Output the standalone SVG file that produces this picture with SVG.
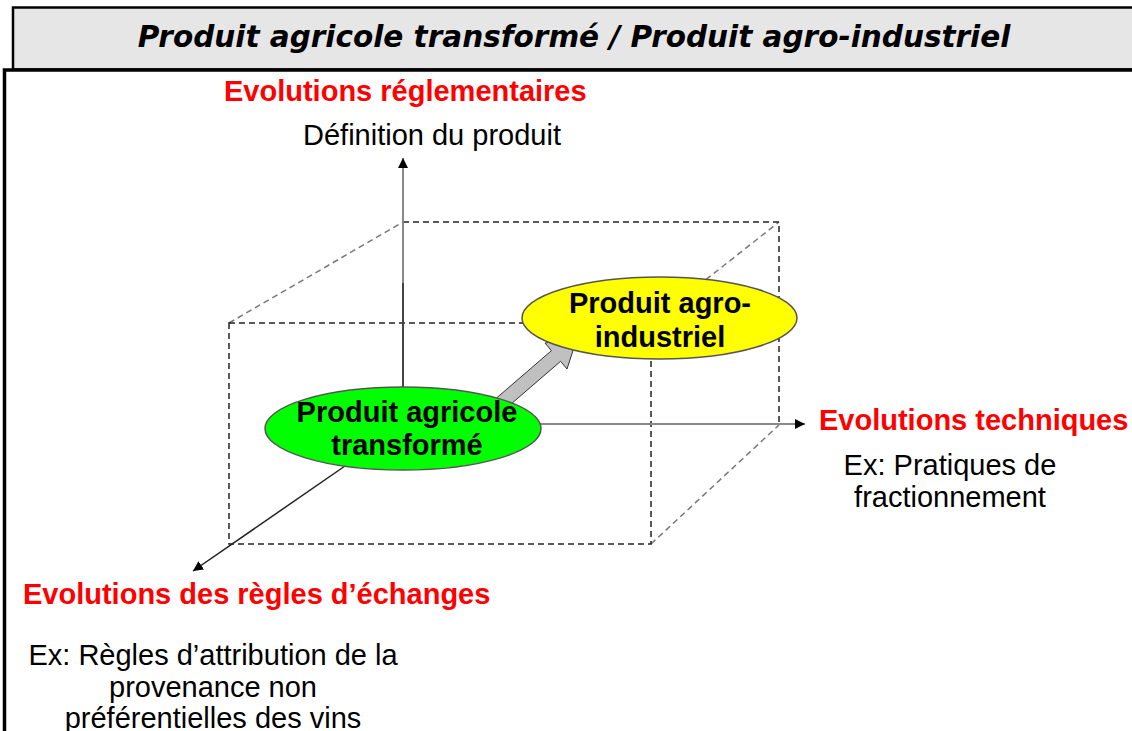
<svg xmlns="http://www.w3.org/2000/svg" width="1132" height="731" viewBox="0 0 1132 731">
<style>
.red{font-family:"Liberation Sans",Arial,sans-serif;font-weight:bold;font-size:29px;fill:#ff0000}
.blk{font-family:"Liberation Sans",Arial,sans-serif;font-size:29px;fill:#000}
.nt{font-family:"Liberation Sans",Arial,sans-serif;font-weight:bold;font-size:29px;fill:#000;text-anchor:middle}
.dash{fill:none;stroke:#222;stroke-width:1.5;stroke-dasharray:6 4}
.dashl{fill:none;stroke:#777;stroke-width:1.5;stroke-dasharray:6 4}
</style>
<defs>
<marker id="ah" viewBox="0 0 10 10" refX="10" refY="5" markerWidth="10" markerHeight="10" markerUnits="userSpaceOnUse" orient="auto">
<path d="M0,0 L10,5 L0,10 z" fill="#000"/>
</marker>
</defs>
<rect width="1132" height="731" fill="#fff"/>
<g id="title">
<rect x="13" y="7.5" width="1130" height="62" fill="#e6e6e6" stroke="#000" stroke-width="2.5"/>
<path d="M4.5,731 V70 H1140" fill="none" stroke="#000" stroke-width="3.5"/>
<text x="574" y="47" text-anchor="middle" font-family="'DejaVu Sans',Verdana,sans-serif" font-weight="bold" font-style="italic" font-size="29.5">Produit agricole transformé / Produit agro-industriel</text>
</g>
<g id="cube">
<path class="dashl" d="M229,323 L403,222"/>
<path class="dashl" d="M651,323 L779,222"/>
<path class="dashl" d="M651,544 L779,425"/>
<path class="dash" d="M403,222 H779 V425"/>
<path class="dash" d="M229,323 H651 V544 H229 Z"/>
</g>
<g id="connectors">
<line x1="403" y1="385" x2="403" y2="158" stroke="#888" stroke-width="2" marker-end="url(#ah)"/>
<line x1="403" y1="283" x2="403" y2="390" stroke="#444" stroke-width="2"/>
<line x1="540" y1="424" x2="805" y2="424" stroke="#888" stroke-width="2" marker-end="url(#ah)"/>
<line x1="345" y1="466" x2="193" y2="571" stroke="#222" stroke-width="1.5" marker-end="url(#ah)"/>
<path d="M496.9,397.7 L551.4,350.7 L545,343 L577,338 L567,369 L560.6,361.3 L506.1,408.3 Z" fill="#c0c0c0" stroke="#333" stroke-width="1"/>
</g>
<g id="node-agro">
<ellipse cx="659.5" cy="318" rx="137.5" ry="41" fill="#ffff00" stroke="#555" stroke-width="1.5"/>
<text class="nt" x="660" y="313">Produit agro-</text>
<text class="nt" x="660" y="347">industriel</text>
</g>
<g id="node-agricole">
<ellipse cx="403" cy="428.5" rx="138" ry="41.5" fill="#00ff00" stroke="#555" stroke-width="1.5"/>
<text class="nt" x="407" y="422">Produit agricole</text>
<text class="nt" x="407" y="455">transformé</text>
</g>
<g id="label-reglementaires">
<text class="red" x="224" y="101">Evolutions réglementaires</text>
<text class="blk" x="303" y="145">Définition du produit</text>
</g>
<g id="label-techniques">
<text class="red" x="819" y="430">Evolutions techniques</text>
<text class="blk" x="950" y="475" text-anchor="middle">Ex: Pratiques de</text>
<text class="blk" x="950" y="507" text-anchor="middle">fractionnement</text>
</g>
<g id="label-echanges">
<text class="red" x="23" y="604">Evolutions des règles d’échanges</text>
<text class="blk" x="213" y="665" text-anchor="middle">Ex: Règles d’attribution de la</text>
<text class="blk" x="213" y="697" text-anchor="middle">provenance non</text>
<text class="blk" x="213" y="728" text-anchor="middle">préférentielles des vins</text>
</g>
</svg>
